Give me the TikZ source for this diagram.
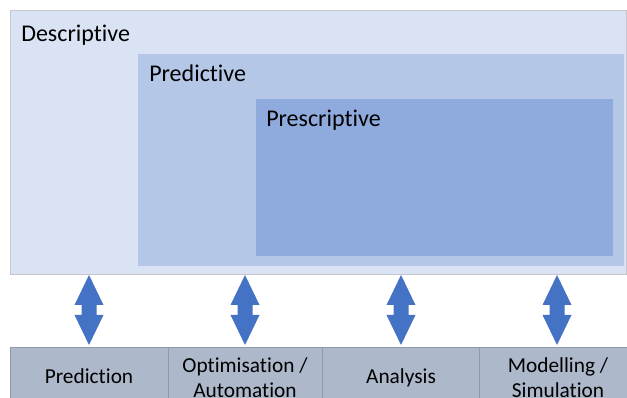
\documentclass[tikz,border=0pt]{standalone}
\usepackage{fontspec}
\setmainfont{Carlito}[Ligatures={NoCommon}]
\usetikzlibrary{fit,calc}
\definecolor{descfill}{HTML}{DAE3F3}
\definecolor{predfill}{HTML}{B4C7E7}
\definecolor{prescfill}{HTML}{8FAADC}
\definecolor{arrowblue}{HTML}{4472C4}
\definecolor{cellfill}{HTML}{ADB9CA}
\definecolor{cellline}{HTML}{8C9AAE}
\definecolor{outline}{HTML}{C4C7CC}
\tikzset{
  area/.style={inner sep=0pt, outer sep=0pt},
  areatext/.style={anchor=base west, inner sep=0pt, font=\fontsize{18}{21}\selectfont},
  cell/.style={inner sep=0pt, outer sep=0pt, fill=cellfill, draw=cellline, line width=0.6pt},
  celltext/.style={anchor=base, inner sep=0pt, align=center, font=\fontsize{16}{18.75}\selectfont},
  fatarrow/.style={fill=arrowblue}
}
\begin{document}
\begin{tikzpicture}[x=0.75pt,y=-0.75pt]
\useasboundingbox (0,0) rectangle (627,398);
\clip (0,0) rectangle (627,398);
% nested areas
\node[area, fit={(10.5,10.5) (626.5,274)}, fill=descfill, draw=outline, line width=0.6pt] (desc) {};
\node[area, fit={(138,54) (624,266)}, fill=predfill] (pred) {};
\node[area, fit={(256,99) (613,256)}, fill=prescfill] (presc) {};
\node[areatext] (desctext) at (21,42) {Descriptive};
\node[areatext] (predtext) at (149,82) {Predictive};
\node[areatext] (presctext) at (266,127) {Prescriptive};
% bottom cells
\node[cell, fit={(10.5,347) (168,430)}] (c1) {};
\node[cell, fit={(168,347) (322,430)}] (c2) {};
\node[cell, fit={(322,347) (479,430)}] (c3) {};
\node[cell, fit={(479,347) (640,430)}] (c4) {};
\node[celltext] (t1) at (89,383) {Prediction};
\node[celltext] (t2) at (245,397) {Optimisation /\\Automation};
\node[celltext] (t3) at (401,383) {Analysis};
\node[celltext] (t4) at (558,397) {Modelling /\\Simulation};
% double arrows
\foreach \cx/\c in {89/c1,245/c2,401/c3,557/c4}{
  \coordinate (top\c) at (\cx,275);
  \coordinate (bot\c) at (\cx,345);
  \fill[fatarrow] (top\c) -- ++(14.5,30) -- ++(-7,0) -- ++(0,10) -- ++(7,0)
    -- (bot\c) -- ++(-14.5,-30) -- ++(7,0) -- ++(0,-10) -- ++(-7,0) -- cycle;
}
\end{tikzpicture}
\end{document}
